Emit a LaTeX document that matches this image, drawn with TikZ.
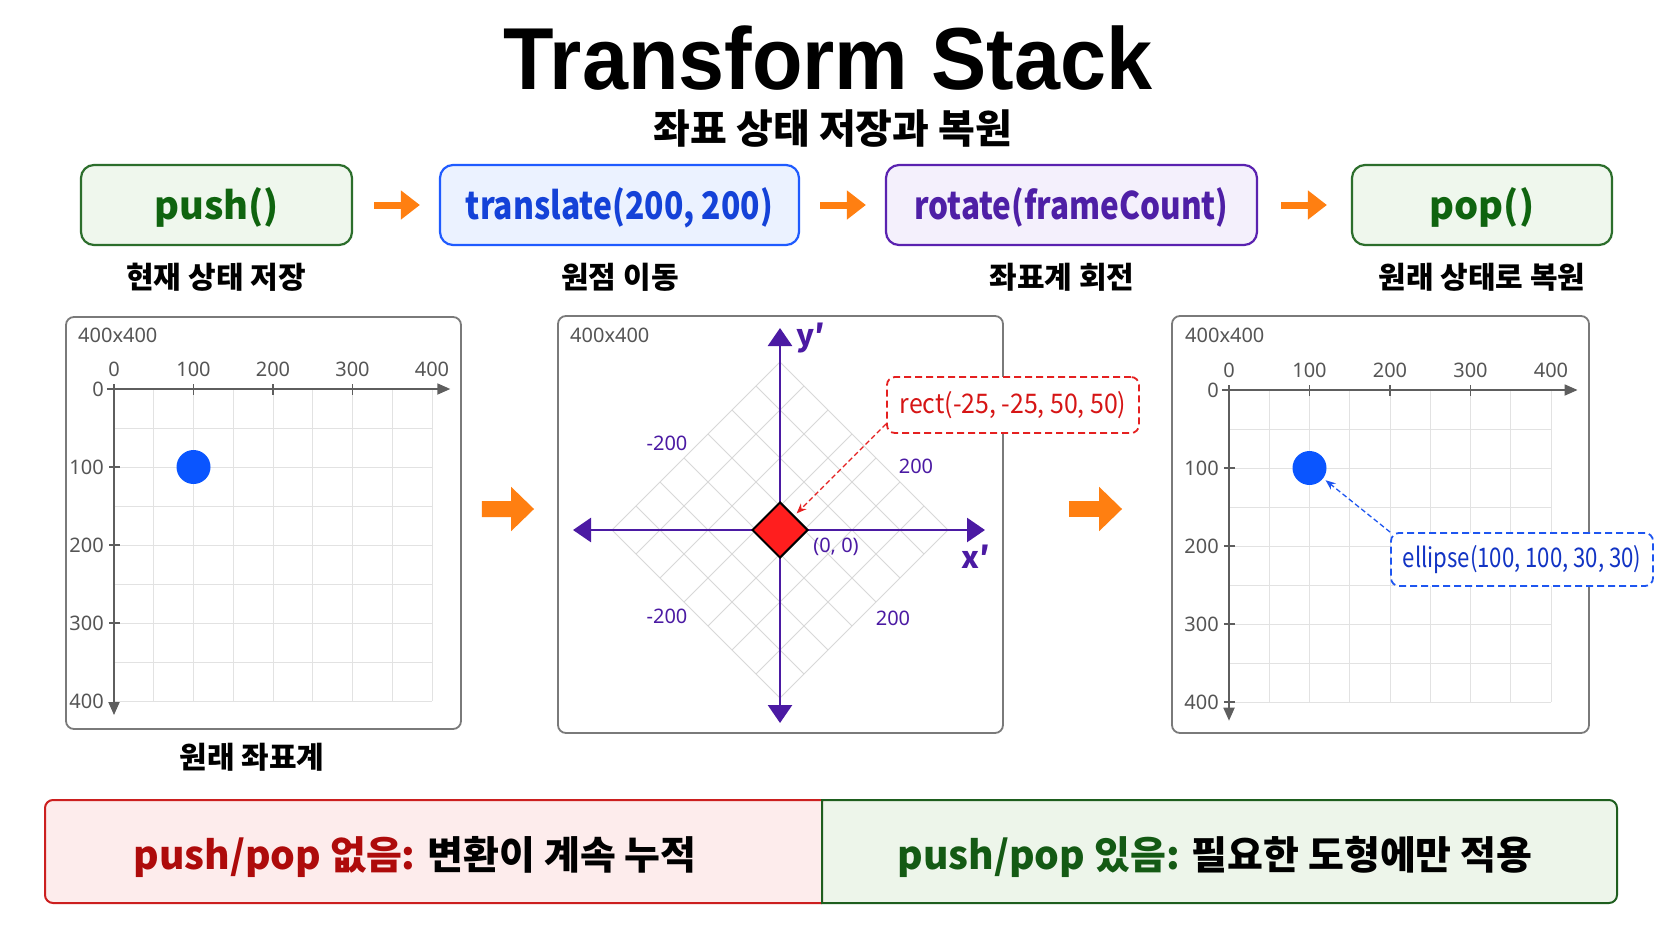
\documentclass[tikz,border=0pt]{standalone}
\usepackage{fontspec}
\usepackage{graphicx}
\usetikzlibrary{arrows.meta,shapes.geometric}
\newfontfamily\krfont{Noto Sans CJK KR}
\newfontfamily\titlefont{Liberation Sans}
\newfontfamily\tickfont{Noto Sans}
\newcommand\fsz[1]{\fontsize{#1bp}{#1bp}\selectfont}
\newcommand\narrowtxt[2]{\scalebox{#1}[1]{#2}}
\definecolor{cOrange}{HTML}{FF7F11}
\definecolor{cGreenLine}{HTML}{2C6E2C}
\definecolor{cGreenText}{HTML}{0F640F}
\definecolor{cGreenFill}{HTML}{EFF7ED}
\definecolor{cBlueLine}{HTML}{1F5BFF}
\definecolor{cBlueText}{HTML}{1442D8}
\definecolor{cBlueFill}{HTML}{EBF2FF}
\definecolor{cPurpLine}{HTML}{5A22B0}
\definecolor{cPurpText}{HTML}{4E1FA6}
\definecolor{cPurpFill}{HTML}{F4F0FC}
\definecolor{cPanel}{HTML}{7A7A7A}
\definecolor{cGrid}{HTML}{E2E2E2}
\definecolor{cAxis}{HTML}{5E5E5E}
\definecolor{cTick}{HTML}{555555}
\definecolor{cDot}{HTML}{0A55FF}
\definecolor{cAxisP}{HTML}{4B1AA3}
\definecolor{cRed}{HTML}{FF1E1E}
\definecolor{cRedLine}{HTML}{E52020}
\definecolor{cRedText}{HTML}{D61515}
\definecolor{cBarRedFill}{HTML}{FDECEC}
\definecolor{cBarRedLine}{HTML}{CC1F1F}
\definecolor{cBarRedText}{HTML}{AE0B0B}
\definecolor{cBarGreenFill}{HTML}{EDF5EA}
\definecolor{cBarGreenLine}{HTML}{1E5E1E}
\definecolor{cBarGreenText}{HTML}{145A14}
\definecolor{cEllText}{HTML}{1234C4}
\definecolor{cEllLine}{HTML}{1E56F0}
\tikzset{
  opbox/.style={rounded corners=13bp, line width=2.2bp, minimum height=80bp, inner sep=0pt, text height=36bp, text depth=8bp, font=\krfont\bfseries\fsz{38}},
  steplabel/.style={font=\krfont\bfseries\fsz{30}, text=black, inner sep=0pt},
  flow/.style={cOrange, line width=7bp, -{Triangle[length=19bp,width=28bp]}},
  bigflow/.style={cOrange, line width=16bp, -{Triangle[length=23bp,width=43bp]}},
  panel/.style={draw=cPanel, line width=1.8bp, rounded corners=8bp, fill=white, inner sep=0pt},
  gridln/.style={cGrid, line width=1bp},
  axisln/.style={cAxis, line width=1.8bp},
  axisarr/.style={axisln, -{Triangle[length=13bp,width=11bp]}},
  ticklbl/.style={font=\tickfont\fsz{20}, text=cTick, inner sep=0pt},
  paxis/.style={cAxisP, line width=2.6bp, {Triangle[length=18bp,width=24bp]}-{Triangle[length=18bp,width=24bp]}},
  plbl/.style={font=\tickfont\fsz{20}, text=cAxisP, inner sep=0pt},
  callout/.style={rounded corners=8bp, dash pattern=on 7bp off 4bp, line width=1.8bp, fill=white, inner sep=0pt, font=\krfont\fsz{27}},
  callarrow/.style={line width=1.3bp, dash pattern=on 5bp off 3bp, -{Stealth[length=10bp,width=8bp]}},
  dot/.style={circle, fill=cDot, minimum size=34bp, inner sep=0pt},
  bartext/.style={font=\krfont\bfseries\fsz{39}, inner sep=0pt}
}
\begin{document}
\begin{tikzpicture}[x=1bp,y=-1bp]
\useasboundingbox (0,0) rectangle (1672,941);
\fill[white] (0,0) rectangle (1672,941);

% title
\node[font=\titlefont\bfseries\fsz{88}, inner sep=0pt] (title) at (828,58) {\narrowtxt{0.94}{Transform Stack}};
\node[font=\krfont\bfseries\fsz{40}, inner sep=0pt] (subtitle) at (833,129) {좌표 상태 저장과 복원};

% operation boxes
\node[opbox, draw=cGreenLine, fill=cGreenFill, text=cGreenText, minimum width=271bp] (push) at (216.5,205) {push()};
\node[opbox, draw=cBlueLine, fill=cBlueFill, text=cBlueText, minimum width=359bp] (translate) at (619.5,205) {\narrowtxt{0.84}{translate(200, 200)}};
\node[opbox, draw=cPurpLine, fill=cPurpFill, text=cPurpText, minimum width=371bp] (rotate) at (1071.5,205) {\narrowtxt{0.83}{rotate(frameCount)}};
\node[opbox, draw=cGreenLine, fill=cGreenFill, text=cGreenText, minimum width=260bp] (pop) at (1482,205) {pop()};

\draw[flow, shorten <=21bp, shorten >=19bp] (push) -- (translate);
\draw[flow, shorten <=20bp, shorten >=19bp] (translate) -- (rotate);
\draw[flow, shorten <=23bp, shorten >=24bp] (rotate) -- (pop);

\node[steplabel] (l1) at (216,277) {현재 상태 저장};
\node[steplabel] (l2) at (620,277) {원점 이동};
\node[steplabel] (l3) at (1062,277) {좌표계 회전};
\node[steplabel] (l4) at (1482,277) {원래 상태로 복원};

% panels
\node[panel, minimum width=395bp, minimum height=412bp] (lp) at (263.5,523) {};
\node[panel, minimum width=445bp, minimum height=417bp] (mp) at (780.5,524.5) {};
\node[panel, minimum width=417bp, minimum height=417bp] (rp) at (1380.5,524.5) {};

% left panel content
\node[ticklbl, anchor=west] (szL) at (78,335) {400x400};
\begin{scope}[shift={(114,389)}, x=0.795bp, y=-0.78bp]
  \foreach \v in {50,100,...,400}{
    \draw[gridln] (\v,0) -- (\v,400);
    \draw[gridln] (0,\v) -- (400,\v);
  }
  \draw[axisarr] (-9,0) -- (423,0);
  \draw[axisarr] (0,-6) -- (0,418);
  \foreach \v in {100,200,300}{
    \draw[axisln] (\v,0) ++(0,5bp) -- ++(0,-11bp);
    \draw[axisln] (0,\v) ++(-5bp,0) -- ++(11bp,0);
  }
  \foreach \v in {0,100,200,300,400}{
    \node[ticklbl, yshift=20bp] (lx\v) at (\v,0) {\v};
    \node[ticklbl, anchor=east, xshift=-10bp] (ly\v) at (0,\v) {\v};
  }
  \node[dot] (dotL) at (100,100) {};
\end{scope}
\node[font=\krfont\bfseries\fsz{30}, inner sep=0pt] (origlbl) at (252,757) {원래 좌표계};

% middle panel content
\node[ticklbl, anchor=west] (szM) at (570,335) {400x400};
\begin{scope}[shift={(780,530)}]
  \foreach \k in {0,...,7}{
    \draw[gridln, cGrid!90!gray] ({-168+24*\k},{24*\k}) -- ({24*\k},{-168+24*\k});
    \draw[gridln, cGrid!90!gray] ({-168+24*\k},{-24*\k}) -- ({24*\k},{168-24*\k});
  }
\end{scope}
\coordinate (pxL) at (573,530);
\coordinate (pxR) at (985,530);
\coordinate (pyT) at (780,328);
\coordinate (pyB) at (780,723);
\draw[paxis] (pxL) -- (pxR);
\draw[paxis] (pyB) -- (pyT);
\node[diamond, draw=black, line width=2bp, fill=cRed, minimum width=56bp, minimum height=56bp, inner sep=0pt] (rectshape) at (780,530) {};
\node[plbl] (m1) at (667,443) {-200};
\node[plbl] (m2) at (916,466) {200};
\node[plbl] (m3) at (667,616) {-200};
\node[plbl] (m4) at (893,618) {200};
\node[plbl] (m0) at (836,547) {(0, 0)};
\node[font=\krfont\bfseries\fsz{30}, text=cAxisP, inner sep=0pt] (xp) at (976,557) {x′};
\node[font=\krfont\bfseries\fsz{30}, text=cAxisP, inner sep=0pt] (yp) at (811,338) {y′};

% right panel content
\node[ticklbl, anchor=west] (szR) at (1185,335) {400x400};
\begin{scope}[shift={(1229,390)}, x=0.805bp, y=-0.78bp]
  \foreach \v in {50,100,...,400}{
    \draw[gridln] (\v,0) -- (\v,400);
    \draw[gridln] (0,\v) -- (400,\v);
  }
  \draw[axisarr] (-9,0) -- (433,0);
  \draw[axisarr] (0,-6) -- (0,424);
  \foreach \v in {100,200,300}{
    \draw[axisln] (\v,0) ++(0,5bp) -- ++(0,-11bp);
  }
  \foreach \v in {100,200,300,400}{
    \draw[axisln] (0,\v) ++(-5bp,0) -- ++(11bp,0);
  }
  \foreach \v in {0,100,200,300,400}{
    \node[ticklbl, yshift=20bp] (rx\v) at (\v,0) {\v};
    \node[ticklbl, anchor=east, xshift=-10bp] (ry\v) at (0,\v) {\v};
  }
  \node[dot] (dotR) at (100,100) {};
\end{scope}

% callouts
\node[callout, draw=cRedLine, text=cRedText, minimum width=252bp, minimum height=56bp] (rectcall) at (1013,405) {\narrowtxt{0.92}{rect(-25, -25, 50, 50)}};
\node[callout, draw=cEllLine, text=cEllText, minimum width=262bp, minimum height=53bp] (ellcall) at (1522,559.5) {\narrowtxt{0.82}{ellipse(100, 100, 30, 30)}};
\draw[callarrow, cRedLine, shorten >=3bp] ([yshift=10bp]rectcall.south west) -- (rectshape.north east);
\draw[callarrow, cEllLine, shorten >=3bp] (ellcall.north west) -- (dotR.-37);

% big arrows between panels
\draw[bigflow] ([xshift=20bp,yshift=14bp]lp.east) -- ([xshift=-23bp,yshift=15.5bp]mp.west);
\draw[bigflow] ([xshift=65bp,yshift=15.5bp]mp.east) -- ([xshift=-49bp,yshift=15.5bp]rp.west);

% bottom bar
\fill[cBarRedFill, rounded corners=8bp] (45,800) rectangle (834,903);
\fill[cBarGreenFill, rounded corners=8bp] (822,800) rectangle (1617,903);
\draw[cBarRedLine, line width=2bp] (822,800) -- (53,800) arc[start angle=90, end angle=180, radius=8bp] -- (45,895) arc[start angle=180, end angle=270, radius=8bp] -- (822,903);
\draw[cBarGreenLine, line width=2bp] (822,800) -- (1609,800) arc[start angle=90, end angle=0, radius=8bp] -- (1617,895) arc[start angle=0, end angle=-90, radius=8bp] -- (822,903) -- cycle;
\node[bartext] (barL) at (415,857) {\textcolor{cBarRedText}{push/pop 없음:} 변환이 계속 누적};
\node[bartext] (barR) at (1215,857) {\textcolor{cBarGreenText}{push/pop 있음:} 필요한 도형에만 적용};
\end{tikzpicture}
\end{document}
